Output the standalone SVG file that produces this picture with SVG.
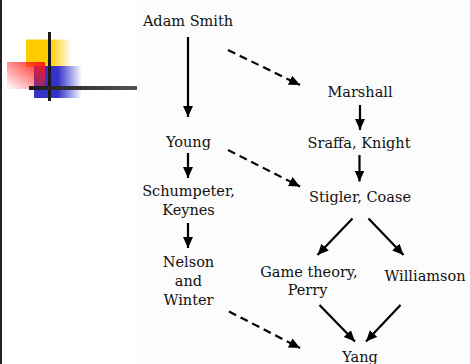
<svg xmlns="http://www.w3.org/2000/svg" width="470" height="364" viewBox="0 0 470 364">
<style>
.t{font-family:"DejaVu Serif","Liberation Serif",serif;font-size:14.5px;fill:#111;text-anchor:middle}
.s{stroke:#000;stroke-width:2.2;fill:none}
.d{stroke:#000;stroke-width:2.2;fill:none;stroke-dasharray:8 5}
</style>
<defs>
<marker id="ah" markerUnits="userSpaceOnUse" markerWidth="12" markerHeight="12" refX="11" refY="5.5" orient="auto">
<path d="M0,0.5 L11,5.5 L0,10.5 z" fill="#000"/>
</marker>
<linearGradient id="gy" x1="0" y1="0" x2="1" y2="0">
<stop offset="0" stop-color="#FFCC00"/><stop offset="0.52" stop-color="#FFCC00"/><stop offset="1" stop-color="#FFCC00" stop-opacity="0"/>
</linearGradient>
<linearGradient id="gb" x1="0" y1="0" x2="1" y2="0">
<stop offset="0" stop-color="#3333CC"/><stop offset="0.5" stop-color="#3333CC"/><stop offset="1" stop-color="#3333CC" stop-opacity="0"/>
</linearGradient>
<linearGradient id="gr" x1="1" y1="0" x2="0" y2="1">
<stop offset="0" stop-color="#FF1A1A"/><stop offset="1" stop-color="#FF1A1A" stop-opacity="0"/>
</linearGradient>
<linearGradient id="gh" x1="0" y1="0" x2="1" y2="0">
<stop offset="0" stop-color="#1a1a1a"/><stop offset="1" stop-color="#555"/>
</linearGradient>
</defs>
<rect x="0" y="0" width="470" height="364" fill="#fff"/>
<rect x="137" y="0" width="333" height="364" fill="#fcfcfc"/>
<rect x="0" y="0" width="2" height="364" fill="#222"/>
<g id="logo">
<rect x="26" y="39.5" width="46" height="27.5" fill="url(#gy)"/>
<rect x="34" y="66" width="48" height="32" fill="url(#gb)"/>
<rect x="7" y="62" width="38" height="27" fill="url(#gr)"/>
<rect x="48" y="32" width="3" height="69" fill="#1a1a1a"/>
<rect x="29" y="86" width="108" height="4" fill="url(#gh)"/>
</g>
<g id="connectors">
<line class="s" x1="188" y1="37" x2="188" y2="117" marker-end="url(#ah)"/>
<line class="s" x1="188" y1="153" x2="188" y2="178" marker-end="url(#ah)"/>
<line class="s" x1="188" y1="223" x2="188" y2="248" marker-end="url(#ah)"/>
<line class="s" x1="360" y1="105" x2="360" y2="130" marker-end="url(#ah)"/>
<line class="s" x1="359.5" y1="155" x2="359.5" y2="181.5" marker-end="url(#ah)"/>
<line class="s" x1="352.5" y1="218.5" x2="317.5" y2="255" marker-end="url(#ah)"/>
<line class="s" x1="368.5" y1="218.5" x2="403.5" y2="255" marker-end="url(#ah)"/>
<line class="s" x1="319.5" y1="305" x2="355" y2="341.5" marker-end="url(#ah)"/>
<line class="s" x1="400.5" y1="305" x2="366" y2="341.5" marker-end="url(#ah)"/>
<line class="d" x1="228" y1="50" x2="300" y2="85" marker-end="url(#ah)"/>
<line class="d" x1="228" y1="150" x2="300" y2="186.5" marker-end="url(#ah)"/>
<line class="d" x1="229" y1="311.5" x2="300" y2="348" marker-end="url(#ah)"/>
</g>
<g id="adam-smith"><text class="t" x="188" y="26">Adam Smith</text></g>
<g id="marshall"><text class="t" x="360" y="97">Marshall</text></g>
<g id="sraffa-knight"><text class="t" x="359" y="148">Sraffa, Knight</text></g>
<g id="stigler-coase"><text class="t" x="360" y="202">Stigler, Coase</text></g>
<g id="young"><text class="t" x="188.5" y="147">Young</text></g>
<g id="schumpeter-keynes"><text class="t" x="188.5" y="195.5">Schumpeter,</text><text class="t" x="188.5" y="215">Keynes</text></g>
<g id="nelson-winter"><text class="t" x="188.5" y="267">Nelson</text><text class="t" x="188.5" y="286">and</text><text class="t" x="188.5" y="305">Winter</text></g>
<g id="game-theory-perry"><text class="t" x="309" y="276.5">Game theory,</text><text class="t" x="307.5" y="294.5">Perry</text></g>
<g id="williamson"><text class="t" x="425" y="281">Williamson</text></g>
<g id="yang"><text class="t" x="360" y="362">Yang</text></g>
</svg>
